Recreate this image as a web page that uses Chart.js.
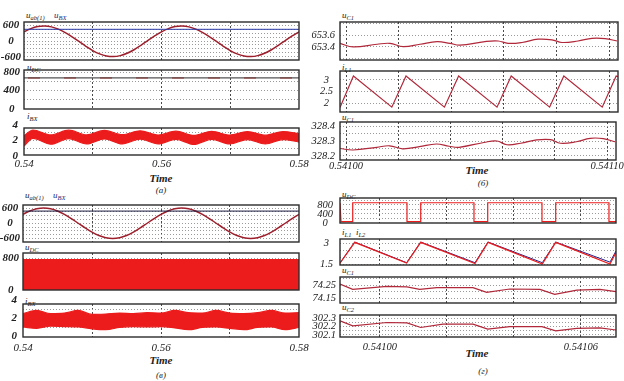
<!DOCTYPE html>
<html>
<head>
<meta charset="utf-8">
<script src="https://cdn.jsdelivr.net/npm/chart.js@4.4.0/dist/chart.umd.min.js"></script>
<style>
  body { margin: 0; background: #fff; }
  #wrap { position: relative; width: 624px; height: 381px; overflow: hidden; font-family: 'Liberation Serif', serif; }
  #wrap canvas { position: absolute; left: 0; top: 0; }
  .lbl { position: absolute; font: italic 9px 'Liberation Serif', serif; color: #222; white-space: nowrap; line-height: 10px; }
  .lbl sub { font-size: 6.5px; vertical-align: -2px; line-height: 0; }
  .blue { color: #1e2a78; }
  .tm { position: absolute; font: italic bold 11px 'Liberation Serif', serif; color: #222; transform: translateX(-50%); line-height: 10px; }
  .cap { position: absolute; font: italic 9px 'Liberation Serif', serif; color: #222; transform: translateX(-50%); line-height: 10px; }
</style>
</head>
<body>
<div id="wrap">
  <div class="lbl" style="left:26px;top:10px">u<sub>ab(1)</sub></div>
  <div class="lbl blue" style="left:54px;top:10px">u<sub>BX</sub></div>
  <div class="lbl" style="left:27px;top:62px">u<sub>DC</sub></div>
  <div class="lbl" style="left:27px;top:111px">i<sub>BX</sub></div>
  <div class="tm" style="left:161px;top:173px">Time</div>
  <div class="cap" style="left:161px;top:185px">(а)</div>

  <div class="lbl" style="left:342px;top:10px">u<sub>C1</sub></div>
  <div class="lbl" style="left:342px;top:62px">i<sub>L1</sub></div>
  <div class="lbl" style="left:342px;top:112px">u<sub>C1</sub></div>
  <div class="tm" style="left:477px;top:165px">Time</div>
  <div class="cap" style="left:483px;top:178px">(б)</div>

  <div class="lbl" style="left:25px;top:190px">u<sub>ab(1)</sub></div>
  <div class="lbl blue" style="left:53px;top:190px">u<sub>BX</sub></div>
  <div class="lbl" style="left:25px;top:242px">u<sub>DC</sub></div>
  <div class="lbl" style="left:25px;top:296px">i<sub>BX</sub></div>
  <div class="tm" style="left:161px;top:355px">Time</div>
  <div class="cap" style="left:161px;top:370px">(в)</div>

  <div class="lbl" style="left:342px;top:189px">u<sub>DC</sub></div>
  <div class="lbl" style="left:342px;top:227px">i<sub>L1</sub>&nbsp;&nbsp;i<sub>L2</sub></div>
  <div class="lbl" style="left:342px;top:265px">u<sub>C1</sub></div>
  <div class="lbl" style="left:342px;top:302px">u<sub>C2</sub></div>
  <div class="tm" style="left:477px;top:348px">Time</div>
  <div class="cap" style="left:483px;top:366px">(г)</div>
</div>
<script>
// ---- data ----
// (а), (в): 0.54 ... 0.58 s
const tSine = [0.540, 0.541, 0.542, 0.543, 0.544, 0.545, 0.546, 0.547, 0.548, 0.549,
  0.550, 0.551, 0.552, 0.553, 0.554, 0.555, 0.556, 0.557, 0.558, 0.559,
  0.560, 0.561, 0.562, 0.563, 0.564, 0.565, 0.566, 0.567, 0.568, 0.569,
  0.570, 0.571, 0.572, 0.573, 0.574, 0.575, 0.576, 0.577, 0.578, 0.579, 0.580];
const uAbA = [346, 467, 543, 565, 532, 446, 318, 158, -18, -198,
  -359, -484, -562, -585, -550, -462, -329, -163, 18, 191,
  346, 467, 543, 565, 532, 446, 318, 158, -18, -198,
  -359, -484, -562, -585, -550, -462, -329, -163, 18, 191, 346];
const uAbV = [353, 485, 571, 600, 571, 485, 353, 185, 0, -185,
  -353, -485, -571, -600, -571, -485, -353, -185, 0, 185,
  353, 485, 571, 600, 571, 485, 353, 185, 0, -185,
  -353, -485, -571, -600, -571, -485, -353, -185, 0, 185, 353];
const tEnds = [0.54, 0.58];
const uBxA = [440, 440];
const uBxV = [480, 480];
const uDcA = [680, 680];
const uDcV = [760, 760];

const tBandA = [0.5400, 0.5413, 0.5439, 0.5465, 0.5491, 0.5517, 0.5543, 0.5569, 0.5595,
  0.5621, 0.5647, 0.5673, 0.5699, 0.5725, 0.5751, 0.5777, 0.5800];
const iBxHiA = [2.6, 3.35, 2.72, 3.33, 2.72, 3.3, 2.75, 3.25, 2.7, 3.2, 2.65, 3.18, 2.7, 3.15, 2.68, 3.15, 2.9];
const iBxLoA = [1.3, 2.28, 1.52, 2.25, 1.55, 2.2, 1.55, 2.18, 1.55, 2.15, 1.5, 2.15, 1.55, 2.12, 1.55, 2.12, 1.8];

const tBandV = [0.540, 0.542, 0.544, 0.546, 0.548, 0.550, 0.552, 0.554, 0.556, 0.558, 0.560,
  0.562, 0.564, 0.566, 0.568, 0.570, 0.572, 0.574, 0.576, 0.578, 0.580];
const iBxHiV = [2.5, 2.85, 2.5, 2.55, 2.85, 2.4, 2.45, 2.55, 2.5, 2.6, 2.55, 2.85, 2.6, 2.55, 2.85, 2.55, 2.5, 2.6, 2.85, 2.55, 2.6];
const iBxLoV = [1.0, 0.85, 1.1, 1.05, 1.0, 0.8, 0.7, 0.95, 1.05, 1.0, 1.05, 0.9, 0.7, 0.95, 1.0, 0.85, 0.7, 0.95, 1.0, 0.7, 0.95];

// (б): 0.54100 ... 0.54110 s
const tCapB = [0.5409977, 0.5410027, 0.5410118, 0.5410167, 0.5410217, 0.5410281, 0.5410346,
  0.5410395, 0.5410433, 0.5410528, 0.5410578, 0.5410616, 0.5410669, 0.5410730, 0.5410783,
  0.5410821, 0.5410882, 0.5410935, 0.5410985, 0.5411030];
const uC1B = [653.46, 653.40, 653.445, 653.46, 653.405, 653.445, 653.49, 653.46, 653.43, 653.49,
  653.50, 653.46, 653.475, 653.53, 653.52, 653.475, 653.50, 653.545, 653.54, 653.50];
const uC2B = [328.25, 328.24, 328.258, 328.268, 328.248, 328.262, 328.28, 328.265, 328.258, 328.29,
  328.30, 328.275, 328.285, 328.307, 328.309, 328.285, 328.295, 328.318, 328.316, 328.295];
const tSawB = [0.5409977, 0.5410028, 0.5410174, 0.5410228, 0.5410374, 0.5410428, 0.5410574,
  0.5410628, 0.5410774, 0.5410828, 0.5410974, 0.5411027, 0.5411034];
const iL1B = [1.80, 3.17, 1.82, 3.17, 1.82, 3.17, 1.82, 3.17, 1.82, 3.17, 1.82, 3.17, 3.15];

// (г): 0.54100 ... 0.54106 s
const tSwD = [0.5409881, 0.5409884, 0.5409919, 0.5409919, 0.5410081, 0.5410081, 0.5410122, 0.5410122,
  0.5410281, 0.5410281, 0.5410322, 0.5410322, 0.5410484, 0.5410484, 0.5410525, 0.5410525,
  0.5410684, 0.5410684, 0.5410705];
const uDcD = [900, 60, 60, 900, 900, 60, 60, 900, 900, 60, 60, 900, 900, 60, 60, 900, 900, 60, 60];
const tSawD = [0.5409881, 0.5409925, 0.5410080, 0.5410122, 0.5410284, 0.5410323, 0.5410485,
  0.5410525, 0.5410687, 0.5410705];
const iL1D = [1.60, 3.05, 1.62, 3.05, 1.58, 3.05, 1.55, 3.05, 1.55, 2.35];
const iL2D = [1.62, 3.07, 1.64, 3.07, 1.64, 3.07, 1.64, 3.07, 1.68, 2.45];
const tC1D = [0.5409881, 0.5409919, 0.5410021, 0.5410081, 0.5410119, 0.5410170, 0.5410278,
  0.5410319, 0.5410388, 0.5410478, 0.5410522, 0.5410588, 0.5410657, 0.5410705];
const uC1D = [74.257, 74.217, 74.24, 74.236, 74.217, 74.23, 74.23, 74.195, 74.22, 74.217, 74.18, 74.212, 74.217, 74.20];
const tC2D = [0.5409881, 0.5409919, 0.5410021, 0.5410081, 0.5410122, 0.5410188, 0.5410278,
  0.5410322, 0.5410388, 0.5410484, 0.5410525, 0.5410588, 0.5410657, 0.5410705];
const uC2D = [302.27, 302.21, 302.25, 302.245, 302.19, 302.23, 302.23, 302.17, 302.20, 302.20, 302.15, 302.18, 302.185, 302.16];

// tick / grid values
const xGridAV = [0.55, 0.56, 0.57];
const xLabAV = [0.54, 0.56, 0.58];
const xGridB = [0.541, 0.54102, 0.54104, 0.54106, 0.54108, 0.5411];
const xLabB = [0.541, 0.5411];
const xGridD = [0.541, 0.54102, 0.54104, 0.54106];
const xLabD = [0.541, 0.54106];

// ---- drawing ----
const W = 624, H = 381;
const serif = "'Liberation Serif', 'Times New Roman', serif";
const RED = '#ec1c1c';
const near = (v, list) => list.some(u => Math.abs(u - v) < 1e-9);
const pts = (xs, ys) => xs.map((x, i) => ({ x: x, y: ys[i] }));
const line = (xs, ys, color, extra) => Object.assign({
  data: pts(xs, ys), borderColor: color, borderWidth: 1.2, pointRadius: 0, fill: false, tension: 0
}, extra || {});

const frame = {
  id: 'frame',
  afterDraw(c) {
    const a = c.chartArea, ctx = c.ctx;
    ctx.save();
    ctx.strokeStyle = '#2b2b2b';
    ctx.lineWidth = 1.4;
    ctx.strokeRect(a.left, a.top, a.right - a.left, a.bottom - a.top);
    ctx.restore();
  }
};

// box = [left, top, right, bottom] of the plot frame on the page
function panel(box, xr, yr, datasets, o) {
  const cv = document.createElement('canvas');
  cv.width = W; cv.height = H;
  document.getElementById('wrap').appendChild(cv);
  const xLab = o.xLab || [];
  const yW = box[0] > 300 ? 34 : box[0];   // room for the y labels
  const xH = xLab.length ? 20 : 0;          // room for the x labels
  const xTicks = [...new Set([...o.xGrid, ...xLab])].sort((a, b) => a - b);
  const yTicks = [...new Set([...o.yGrid, ...o.yLab])].sort((a, b) => a - b);
  new Chart(cv, {
    type: 'line',
    data: { datasets: datasets },
    options: {
      responsive: false,
      animation: false,
      events: [],
      layout: { padding: { left: box[0] - yW, top: box[1], right: W - box[2], bottom: H - box[3] - xH } },
      plugins: { legend: { display: false }, tooltip: { enabled: false } },
      scales: {
        x: {
          type: 'linear', bounds: 'data', min: xr[0], max: xr[1],
          afterFit: s => { s.height = xH; },
          afterBuildTicks: s => { s.ticks = xTicks.map(v => ({ value: v })); },
          grid: {
            drawTicks: false,
            color: c => (c.tick && near(c.tick.value, o.xGrid)) ? '#4a4a4a' : 'rgba(0,0,0,0)'
          },
          border: { display: false, dash: [2, 2] },
          ticks: {
            autoSkip: false, maxRotation: 0, padding: o.xPad || 0, color: '#222',
            font: { family: serif, size: o.fs, style: 'italic' },
            callback: v => near(v, xLab) ? v.toFixed(o.xDec) : ''
          }
        },
        y: {
          type: 'linear', bounds: 'data', min: yr[0], max: yr[1],
          afterFit: s => { s.width = yW; },
          afterBuildTicks: s => { s.ticks = yTicks.map(v => ({ value: v })); },
          grid: {
            drawTicks: false,
            color: c => (c.tick && near(c.tick.value, o.yGrid)) ? '#9a9a9a' : 'rgba(0,0,0,0)'
          },
          border: { display: false, dash: [1, 2] },
          ticks: {
            autoSkip: false, padding: o.yPad, crossAlign: 'center', color: '#222',
            font: { family: serif, size: o.fs, style: 'italic', weight: o.yBold ? 'bold' : 'normal' },
            callback: v => near(v, o.yLab) ? String(v) : ''
          }
        }
      }
    },
    plugins: [frame]
  });
}

const xA = [0.54, 0.58];
const xB = [0.5409977, 0.5411034];
const xD = [0.5409881, 0.5410705];

// (а)
panel([24, 22, 299, 60], xA, [-715, 715], [
  line(tEnds, uBxA, '#2a3aa8', { borderWidth: 1 }),
  line(tSine, uAbA, '#9e1f2c', { borderWidth: 1.5, tension: 0.4 })
], { xGrid: xGridAV, yGrid: [-600, -450, -300, -150, 0, 150, 300, 450, 600], yLab: [600, 0, -600], fs: 11, yPad: 3, yBold: true });

panel([24, 70, 299, 109], xA, [0, 850], [
  line(tEnds, uDcA, '#555', { borderWidth: 1.2 }),
  line(tEnds, uDcA, '#e05a5a', { borderWidth: 1.8, borderDash: [12, 24], borderDashOffset: -4 })
], { xGrid: xGridAV, yGrid: [200, 400, 600, 800], yLab: [800, 400, 0], fs: 11, yPad: 4, yBold: true });

panel([24, 128, 299, 155], xA, [0.13, 3.61], [
  line(tBandA, iBxHiA, RED, { cubicInterpolationMode: 'monotone' }),
  line(tBandA, iBxLoA, RED, { cubicInterpolationMode: 'monotone', fill: '-1', backgroundColor: RED })
], { xGrid: xGridAV, xLab: xLabAV, xDec: 2, xPad: 3, yGrid: [1, 2, 3], yLab: [4, 2, 0], fs: 11, yPad: 6, yBold: true });

// (б)
panel([340, 22, 618, 60], xB, [653.18, 653.82], [
  line(tCapB, uC1B, '#b0283a', { tension: 0.4 })
], { xGrid: xGridB, yGrid: [653.2, 653.4, 653.6, 653.8], yLab: [653.6, 653.4], fs: 10.5, yPad: 5 });

panel([340, 71, 618, 112], xB, [1.61, 3.39], [
  line(tSawB, iL1B, '#b0283a')
], { xGrid: xGridB, yGrid: [2, 2.5, 3], yLab: [3, 2.5, 2], fs: 10.5, yPad: 7 });

panel([340, 122, 618, 160], xB, [328.173, 328.427], [
  line(tCapB, uC2B, '#b0283a', { tension: 0.4 })
], { xGrid: xGridB, xLab: xLabB, xDec: 5, xPad: 0, yGrid: [328.2, 328.25, 328.3, 328.35, 328.4], yLab: [328.4, 328.3, 328.2], fs: 10.5, yPad: 5 });

// (в)
panel([23, 205, 299, 242], xA, [-740, 720], [
  line(tEnds, uBxV, '#1a1a40', { borderWidth: 1 }),
  line(tSine, uAbV, '#9e1f2c', { borderWidth: 1.5, tension: 0.4 })
], { xGrid: xGridAV, yGrid: [-600, -450, -300, -150, 0, 150, 300, 450, 600], yLab: [600, 0, -600], fs: 11, yPad: 3, yBold: true });

panel([23, 253, 299, 290], xA, [0, 925], [
  line(tEnds, uDcV, RED, { fill: { value: 0 }, backgroundColor: RED })
], { xGrid: xGridAV, yGrid: [200, 400, 600, 800], yLab: [800, 0], fs: 11, yPad: 4, yBold: true });

panel([23, 304, 299, 337], xA, [-0.11, 3.56], [
  line(tBandV, iBxHiV, RED, { cubicInterpolationMode: 'monotone' }),
  line(tBandV, iBxLoV, RED, { cubicInterpolationMode: 'monotone', fill: '-1', backgroundColor: RED })
], { xGrid: xGridAV, xLab: xLabAV, xDec: 2, xPad: 5, yGrid: [1, 2, 3], yLab: [4, 2, 0], fs: 11, yPad: 6, yBold: true });

// (г)
panel([340, 198, 616, 223], xD, [0, 1110], [
  line(tSwD, uDcD, RED)
], { xGrid: xGridD, yGrid: [200, 400, 600, 800, 1000], yLab: [800, 400, 0], fs: 10.5, yPad: 7 });

panel([340, 239, 616, 265], xD, [1.48, 3.28], [
  line(tSawD, iL1D, RED),
  line(tSawD, iL2D, '#23238a', { borderWidth: 1 })
], { xGrid: xGridD, yGrid: [1.5, 2, 2.5, 3], yLab: [3, 1.5], fs: 10.5, yPad: 7 });

panel([340, 277, 616, 303], xD, [74.115, 74.31], [
  line(tC1D, uC1D, '#b0283a')
], { xGrid: xGridD, yGrid: [74.15, 74.2, 74.25, 74.3], yLab: [74.25, 74.15], fs: 10.5, yPad: 4 });

panel([340, 315, 616, 337], xD, [302.076, 302.34], [
  line(tC2D, uC2D, '#b0283a')
], { xGrid: xGridD, xLab: xLabD, xDec: 5, xPad: 4, yGrid: [302.1, 302.15, 302.2, 302.25, 302.3], yLab: [302.3, 302.2, 302.1], fs: 10.5, yPad: 4 });
</script>
</body>
</html>
